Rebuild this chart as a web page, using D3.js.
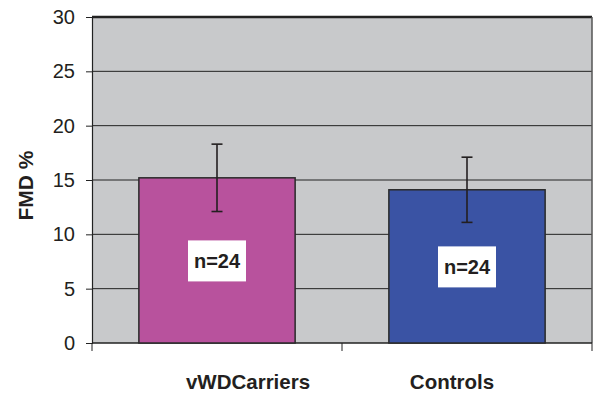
<!DOCTYPE html>
<html><head><meta charset="utf-8">
<script src="https://cdn.jsdelivr.net/npm/d3@7"></script>
<style>body{margin:0;background:#fff}svg{display:block}</style>
</head><body>
<script>
const categories = ["vWDCarriers", "Controls"];
const means = [15.2, 14.1];
const errors = [3.1, 3.0];
const nLabels = ["n=24", "n=24"];
const colors = ["#B8529D", "#3A53A4"];
const yTicks = [0, 5, 10, 15, 20, 25, 30];

const W = 594, H = 394;
const m = {left: 92, right: 2, top: 17, bottom: 51};
const svg = d3.select("body").append("svg").attr("width", W).attr("height", H)
  .style("font-family", "Arial, 'Liberation Sans', sans-serif");

const x = d3.scaleBand().domain(categories).range([m.left, W - m.right]).paddingInner(0.375).paddingOuter(0.1875);
const xb = d3.scaleBand().domain(categories).range([m.left, W - m.right]);
const y = d3.scaleLinear().domain([0, 30]).range([H - m.bottom, m.top]);

// plot background
svg.append("rect").attr("x", m.left).attr("y", m.top)
  .attr("width", W - m.right - m.left).attr("height", y(0) - m.top)
  .attr("fill", "#C8C9CB");

// gridlines
svg.append("g").selectAll("line").data(yTicks.filter(d => d > 0)).join("line")
  .attr("x1", m.left).attr("x2", W - m.right)
  .attr("y1", d => y(d)).attr("y2", d => y(d))
  .attr("stroke", "#222").attr("stroke-width", d => d === 30 ? 2.5 : 1);

// right border
svg.append("line").attr("x1", W - m.right).attr("x2", W - m.right)
  .attr("y1", m.top).attr("y2", y(0)).attr("stroke", "#555").attr("stroke-width", 1.5);

// y axis
const ya = svg.append("g").attr("transform", `translate(${m.left},0)`)
  .call(d3.axisLeft(y).tickValues(yTicks).tickSize(6).tickPadding(11));
ya.select(".domain").attr("stroke", "#222").attr("stroke-width", 1.2);
ya.selectAll(".tick line").attr("stroke", "#222");
ya.selectAll(".tick text").attr("font-size", 20).attr("fill", "#231f20")
  .attr("font-family", "Arial, 'Liberation Sans', sans-serif");

// x axis
const xa = svg.append("g").attr("transform", `translate(0,${y(0)})`)
  .call(d3.axisBottom(xb).tickSize(0).tickPadding(0));
xa.select(".domain").remove();
xa.selectAll(".tick text").remove();
svg.append("g").selectAll("line").data([m.left, m.left + xb.bandwidth(), W - m.right]).join("line")
  .attr("x1", d => d).attr("x2", d => d).attr("y1", y(0)).attr("y2", y(0) + 8)
  .attr("stroke", "#222");
svg.append("line").attr("x1", m.left).attr("x2", W - m.right).attr("y1", y(0)).attr("y2", y(0))
  .attr("stroke", "#222").attr("stroke-width", 1.5);

// bars
svg.append("g").selectAll("rect").data(categories).join("rect")
  .attr("x", d => x(d)).attr("y", (d, i) => y(means[i]))
  .attr("width", x.bandwidth()).attr("height", (d, i) => y(0) - y(means[i]))
  .attr("fill", (d, i) => colors[i]).attr("stroke", "#2a2a2a").attr("stroke-width", 1.5);

// error bars
const eg = svg.append("g").attr("stroke", "#231f20").attr("stroke-width", 1.6);
categories.forEach((c, i) => {
  const cx = x(c) + x.bandwidth() / 2;
  eg.append("line").attr("x1", cx).attr("x2", cx).attr("y1", y(means[i] + errors[i])).attr("y2", y(means[i] - errors[i]));
  [means[i] + errors[i], means[i] - errors[i]].forEach(v =>
    eg.append("line").attr("x1", cx - 5.5).attr("x2", cx + 5.5).attr("y1", y(v)).attr("y2", y(v)));
});

// n labels
categories.forEach((c, i) => {
  const cx = x(c) + x.bandwidth() / 2;
  const cy = (y(means[i]) + y(0)) / 2;
  svg.append("rect").attr("x", cx - 29).attr("y", cy - 20).attr("width", 58).attr("height", 41).attr("fill", "#fff");
  svg.append("text").attr("x", cx).attr("y", cy + 1).attr("text-anchor", "middle").attr("dominant-baseline", "central")
    .attr("font-weight", "bold").attr("font-size", 20).attr("fill", "#231f20").text(nLabels[i]);
});

// category labels
const dxs = [31, -15];
categories.forEach((c, i) => {
  svg.append("text").attr("x", xb(c) + xb.bandwidth() / 2 + dxs[i]).attr("y", 389)
    .attr("text-anchor", "middle").attr("font-weight", "bold").attr("font-size", 20.5)
    .attr("fill", "#231f20").text(c);
});

// y label
svg.append("text").attr("transform", `translate(33,${185.5}) rotate(-90)`)
  .attr("text-anchor", "middle").attr("font-weight", "bold").attr("font-size", 21)
  .attr("fill", "#231f20").text("FMD %");
</script>
</body></html>
